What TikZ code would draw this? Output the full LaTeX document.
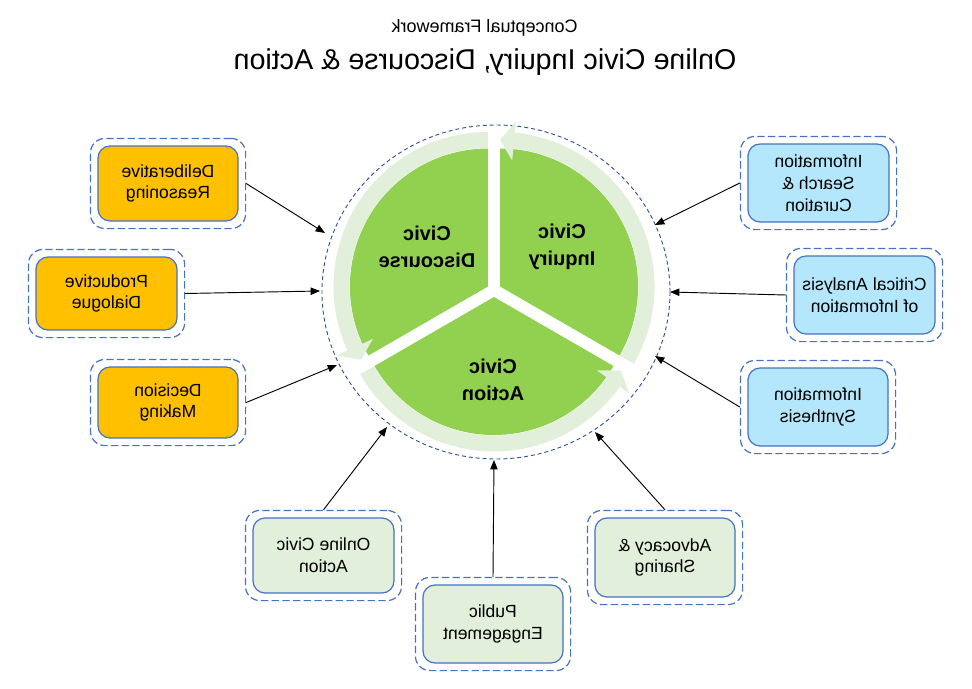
\documentclass[tikz,border=0pt]{standalone}
\usepackage{fontspec}
\setmainfont{Liberation Sans}
\usetikzlibrary{calc,fit,arrows.meta}
\definecolor{boxorange}{HTML}{FFC000}
\definecolor{boxblue}{HTML}{B4E7FB}
\definecolor{boxgreen}{HTML}{E2EFDA}
\definecolor{bordblue}{HTML}{4472C4}
\definecolor{piegreen}{HTML}{92D050}
\definecolor{ringgreen}{HTML}{E2EFDA}
\definecolor{circblue}{HTML}{2F5597}
\begin{document}
\begin{tikzpicture}[x=0.75pt,y=-0.75pt,
  box/.style={draw=bordblue, line width=0.9pt, rounded corners=9pt, align=center,
    xscale=-1, inner sep=0pt, font=\fontsize{13.2}{16.3}\selectfont},
  obox/.style={draw=bordblue, dash pattern=on 5.5pt off 2.5pt, line width=0.9pt,
    rounded corners=11pt, inner sep=5.25pt},
  civic/.style={align=center, xscale=-1, font=\fontsize{15}{20}\selectfont\bfseries},
  conn/.style={draw=black, line width=0.7pt, -{Triangle[length=7pt,width=5.5pt]}},
  circdash/.style={draw=circblue, line width=0.7pt, dash pattern=on 3pt off 2.2pt}]
\useasboundingbox (0,0) rectangle (972,689);

% titles
\node[xscale=-1, font=\fontsize{13.5}{16}\selectfont] (sub) at (484.5,28) {Conceptual Framework};
\node[xscale=-1, font=\fontsize{21.5}{25}\selectfont] (title) at (485,62) {Online Civic Inquiry, Discourse \& Action};

% dashed circle
\draw[circdash] (496,292) ellipse [x radius=174, y radius=167];

% pie sectors with ring arrows
\foreach \a in {-90,30,150} {
  \begin{scope}[shift={($(494,290)+(\a+60:7)$)}]
    \fill[piegreen] (0,0) -- (\a:138) arc[start angle=\a, end angle=\a+120, radius=138] -- cycle;
    \fill[ringgreen] (\a+120:138.5) arc[start angle=\a+120, end angle=\a+5.5, radius=138.5]
      -- (\a+5.5:126.5) -- (\a:146.5) -- (\a+5.5:166) -- (\a+5.5:154.5)
      arc[start angle=\a+5.5, end angle=\a+120, radius=154.5] -- cycle;
  \end{scope}
}

\node[civic] (inq) at (562,247) {Civic\\Inquiry};
\node[civic] (dis) at (427,247) {Civic\\Discourse};
\node[civic] (act) at (493,380) {Civic\\Action};

% boxes
\node[box, fill=boxorange, minimum width=105pt, minimum height=56.25pt] (delib) at (168,183.5) {Deliberative\\Reasoning};
\node[box, fill=boxorange, minimum width=105.75pt, minimum height=54.75pt] (prod) at (106.5,293.5) {Productive\\Dialogue};
\node[box, fill=boxorange, minimum width=105pt, minimum height=53.25pt] (dec) at (168,402.5) {Decision\\Making};
\node[box, fill=boxblue, minimum width=105.75pt, minimum height=58.5pt] (search) at (818.5,183) {Information\\Search \&\\Curation};
\node[box, fill=boxblue, minimum width=105.75pt, minimum height=58.5pt] (crit) at (864.5,295) {Critical Analysis\\of Information};
\node[box, fill=boxblue, minimum width=105pt, minimum height=58.5pt] (synth) at (818,407) {Information\\Synthesis};
\node[box, fill=boxgreen, minimum width=105.75pt, minimum height=56.25pt] (oca) at (323.5,555.5) {Online Civic\\Action};
\node[box, fill=boxgreen, minimum width=105pt, minimum height=58.5pt] (pub) at (493,624) {Public\\Engagement};
\node[box, fill=boxgreen, minimum width=105pt, minimum height=59.25pt] (adv) at (665,557.5) {Advocacy \&\\Sharing};

\foreach \n in {delib,prod,dec,search,crit,synth,oca,pub,adv} {
  \node[obox, fit=(\n)] (\n-o) {};
}

% arrow targets on the dashed circle
\coordinate (t1) at (325,233);
\coordinate (t2) at (320,291);
\coordinate (t3) at (337,365);
\coordinate (t4) at (655,225);
\coordinate (t5) at (670,292);
\coordinate (t6) at (655,356);
\coordinate (t7) at (387,427);
\coordinate (t8) at (494,460);
\coordinate (t9) at (595,432);

\draw[conn] (delib-o.east) -- (t1);
\draw[conn] (prod-o.east) -- (t2);
\draw[conn] (dec-o.east) -- (t3);
\draw[conn] (search-o.west) -- (t4);
\draw[conn] (crit-o.west) -- (t5);
\draw[conn] (synth-o.west) -- (t6);
\draw[conn] (oca-o.north) -- (t7);
\draw[conn] (pub-o.north) -- (t8);
\draw[conn] (adv-o.north) -- (t9);
\end{tikzpicture}
\end{document}
